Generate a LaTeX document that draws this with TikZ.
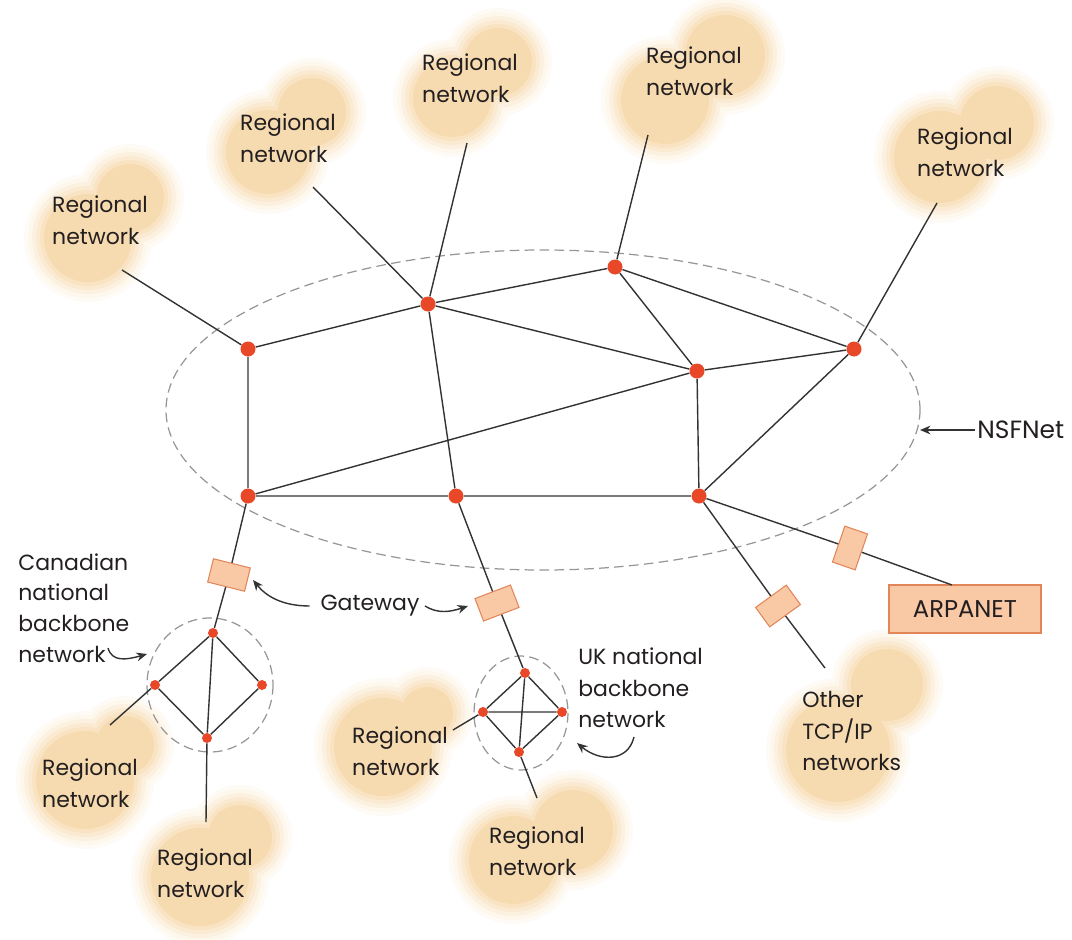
\documentclass[tikz,border=0pt]{standalone}
\usepackage{fontspec}
\setmainfont{Poppins}
\usetikzlibrary{arrows.meta}
\definecolor{cloudc}{RGB}{247,219,176}
\definecolor{dotc}{RGB}{232,72,40}
\definecolor{gwfill}{RGB}{249,201,166}
\definecolor{gwdraw}{RGB}{226,134,90}
\definecolor{linec}{RGB}{51,51,51}
\definecolor{textc}{RGB}{35,31,32}
\definecolor{dashc}{RGB}{150,150,150}
\newcommand\myblob[1]{%
  \foreach \dd/\oo in {14/0.1,10/0.15,6/0.2,2/0.3,-2/0.45,-6/1}{%
    \begin{scope}[transparency group, opacity=\oo]
      \foreach \cx/\cy/\cr in {#1}{\fill[cloudc] (\cx,\cy) circle ({\cr+\dd});}
    \end{scope}}}
\tikzset{
  dot/.style={circle, fill=dotc, inner sep=0pt, minimum size=0.3cm},
  sdot/.style={circle, fill=dotc, inner sep=0pt, minimum size=0.2cm},
  link/.style={draw=linec, line width=0.8pt},
  gw/.style={draw=gwdraw, fill=gwfill, line width=0.6pt, minimum width=0.76cm, minimum height=0.48cm, inner sep=0pt},
  abox/.style={draw=gwdraw, fill=gwfill, line width=0.6pt, minimum width=3.04cm, minimum height=0.96cm, inner sep=0pt, font=\fontsize{13.8}{18}\selectfont, text=textc},
  lbl/.style={font=\fontsize{12.5}{18}\selectfont, text=textc, align=left, inner sep=0pt},
  dashline/.style={draw=dashc, line width=0.7pt, dash pattern=on 5.5pt off 3pt},
  arr/.style={draw=linec, line width=0.8pt, -{Stealth[length=6pt, width=5pt]}}
}
\begin{document}
\begin{tikzpicture}[x=0.02cm, y=-0.02cm]
\useasboundingbox (0,0) rectangle (1072,940);
% clouds
\myblob{88/238/50, 130/198/40}
\myblob{268/152/48, 312/112/40}
\myblob{452/98/45, 498/62/40}
\myblob{665/100/50, 725/55/46}
\myblob{940/157/52, 997/123/43}
\myblob{85/780/55, 125/745/35}
\myblob{200/877/55, 240/837/38}
\myblob{383/747/55, 427/713/32}
\myblob{513/860/50, 573/830/46}
\myblob{838/750/58, 887/685/42}
% NSFNet boundary and small backbones
\draw[dashline] (543,410) ellipse [x radius=377, y radius=160];
\draw[dashline] (210,685) ellipse [x radius=63, y radius=67];
\draw[dashline] (521,713) ellipse [x radius=47, y radius=57];
% backbone routers
\node[dot] (A) at (248,349) {};
\node[dot] (B) at (428,304) {};
\node[dot] (C) at (615,267) {};
\node[dot] (D) at (697,371) {};
\node[dot] (E) at (854,349) {};
\node[dot] (F) at (248,496) {};
\node[dot] (G) at (456,496) {};
\node[dot] (H) at (699,496) {};
% Canadian backbone
\node[sdot] (ct) at (213,633) {};
\node[sdot] (cl) at (155,685) {};
\node[sdot] (cr) at (262,685) {};
\node[sdot] (cb) at (207,738) {};
% UK backbone
\node[sdot] (ut) at (525,673) {};
\node[sdot] (ul) at (483,712) {};
\node[sdot] (ur) at (562,712) {};
\node[sdot] (ub) at (519,752) {};
% gateways
\node[gw, rotate=-14] (gc) at (229,575) {};
\node[gw, rotate=21] (gu) at (497,603) {};
\node[gw, rotate=71] (ga) at (850,548) {};
\node[gw, rotate=36] (go) at (778,606) {};
\node[abox] (arp) at (965,609) {ARPANET};
% cloud labels
\node[lbl] (r1) at (100,220) {Regional\\network};
\node[lbl] (r2) at (288,138) {Regional\\network};
\node[lbl] (r3) at (470,78) {Regional\\network};
\node[lbl] (r4) at (694,71) {Regional\\network};
\node[lbl] (r5) at (965,152) {Regional\\network};
\node[lbl] (r6) at (90,783) {Regional\\network};
\node[lbl] (r7) at (205,873) {Regional\\network};
\node[lbl] (r8) at (400,751) {Regional\\network};
\node[lbl] (r9) at (537,851) {Regional\\network};
\node[lbl, anchor=west] (oth) at (802,731) {Other\\TCP/IP\\networks};
% other labels
\node[lbl, anchor=west, font=\fontsize{12.5}{17.5}\selectfont] (can) at (18,608) {Canadian\\national\\backbone\\network};
\node[lbl, anchor=west] (uk) at (578,688) {UK national\\backbone\\network};
\node[lbl] (gwt) at (370,606) {Gateway};
\node[lbl, anchor=west, font=\fontsize{14.2}{18}\selectfont] (nsf) at (977,430) {NSFNet};
% free ends
\coordinate (e1) at (122,270);
\coordinate (e2) at (313,187);
\coordinate (e3) at (467,143);
\coordinate (e4) at (648,135);
\coordinate (e5) at (937,203);
\coordinate (e6) at (110,725);
\coordinate (e7) at (206,822);
\coordinate (e8) at (453,730);
\coordinate (e9) at (537,798);
\coordinate (e10) at (825,668);
\coordinate (ea) at (952,585);
\coordinate (nsftip) at (920,430);
\coordinate (gwLtip) at (253,580);
\coordinate (gwRtip) at (468,606);
\coordinate (cantip) at (147,654);
\coordinate (uktip) at (577,743);
% backbone links
\draw[link] (A)--(B) (A)--(F) (B)--(C) (B)--(D) (B)--(G) (C)--(D) (C)--(E)
  (D)--(E) (D)--(H) (E)--(H) (F)--(G) (G)--(H) (F)--(D);
\draw[link] (A)--(e1) (B)--(e2) (B)--(e3) (C)--(e4) (E)--(e5);
% Canadian links
\draw[link] (F)--(gc) (gc)--(ct) (ct)--(cl) (ct)--(cr) (cl)--(cb) (cr)--(cb)
  (ct)--(cb) (cb)--(e7) (cl)--(e6);
% UK links
\draw[link] (G)--(gu) (gu)--(ut) (ut)--(ul) (ut)--(ur) (ul)--(ub) (ur)--(ub)
  (ul)--(ur) (ut)--(ub) (ub)--(e9) (ul)--(e8);
% other links
\draw[link] (H)--(ga) (ga)--(ea) (H)--(go) (go)--(e10);
% label arrows
\draw[arr] ([xshift=-1pt]nsf.west) -- (nsftip);
\draw[arr] ([xshift=-6pt]gwt.west) .. controls (282,606) and (266,596) .. (gwLtip);
\draw[arr] ([xshift=3pt]gwt.east) .. controls (438,614) and (450,612) .. (gwRtip);
\draw[arr] (108,648) .. controls (112,662) and (126,660) .. (cantip);
\draw[arr] (634,737) .. controls (628,762) and (600,762) .. (uktip);
\end{tikzpicture}
\end{document}
